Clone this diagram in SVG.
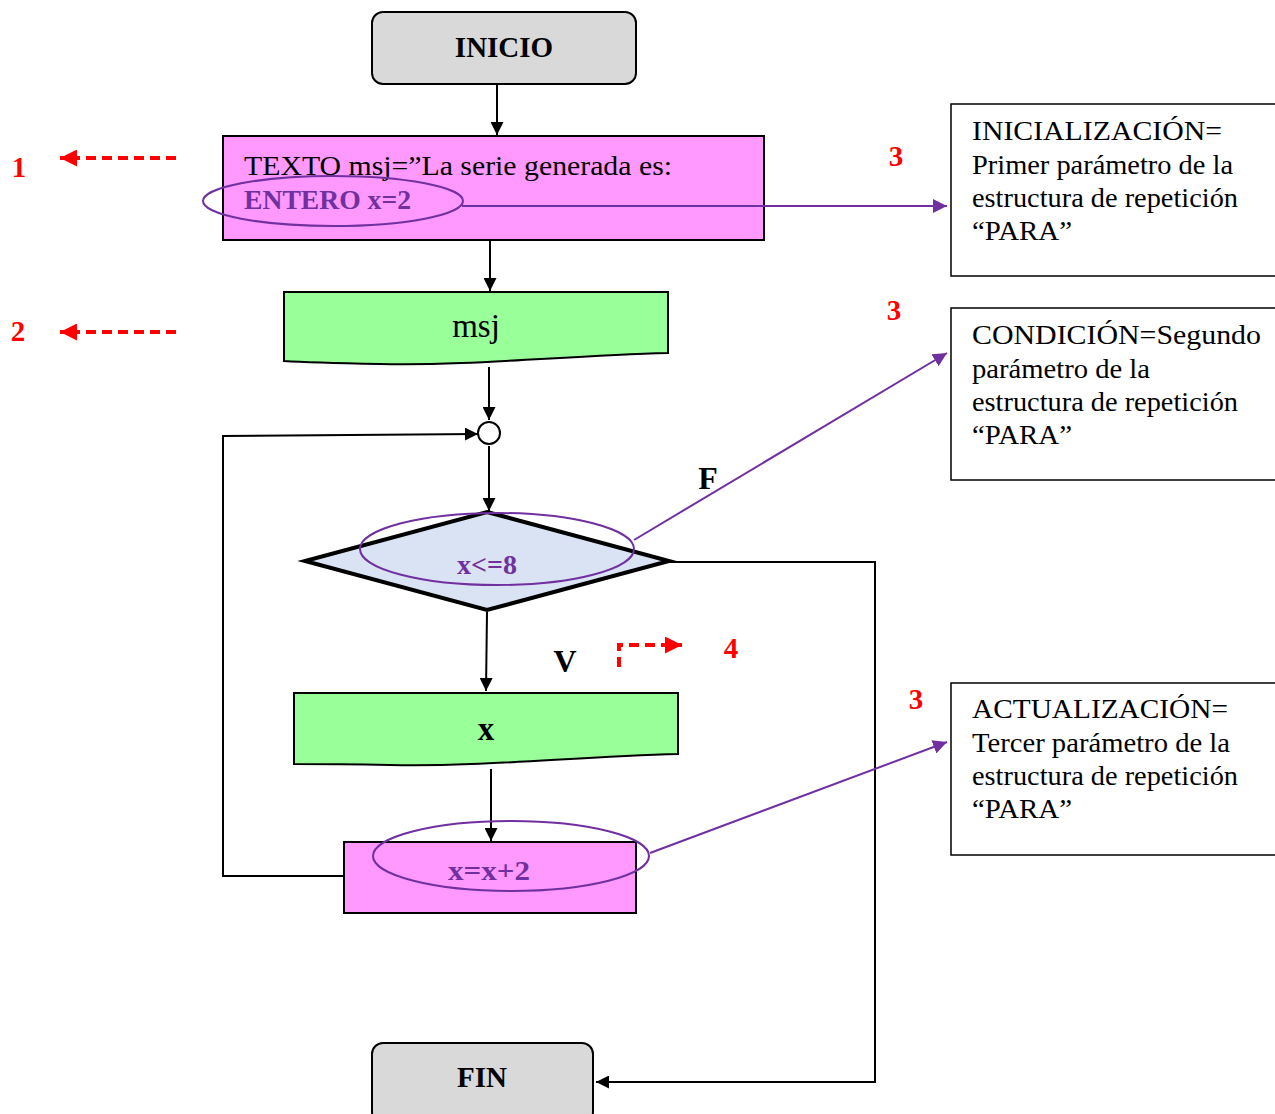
<svg xmlns="http://www.w3.org/2000/svg" width="1275" height="1114" viewBox="0 0 1275 1114">
  <defs>
    <marker id="ah" viewBox="0 0 10 10" refX="10" refY="5" markerWidth="13" markerHeight="13" markerUnits="userSpaceOnUse" orient="auto">
      <path d="M0,0 L10,5 L0,10 z" fill="#000"/>
    </marker>
    <marker id="ahp" viewBox="0 0 10 10" refX="10" refY="5" markerWidth="14" markerHeight="14" markerUnits="userSpaceOnUse" orient="auto">
      <path d="M0,0 L10,5 L0,10 z" fill="#7030a0"/>
    </marker>
    <marker id="ahr" viewBox="0 0 10 10" refX="10" refY="5" markerWidth="17" markerHeight="17" markerUnits="userSpaceOnUse" orient="auto">
      <path d="M0,0 L10,5 L0,10 z" fill="#ff0000"/>
    </marker>
  </defs>
  <style>
    .term { fill: #d9d9d9; stroke: #000; stroke-width: 2; }
    .proc { fill: #ff99ff; stroke: #000; stroke-width: 2; }
    .doc { fill: #99ff99; stroke: #000; stroke-width: 2; }
    .dec { fill: #dae3f3; stroke: #000; stroke-width: 4; }
    .note { fill: #fff; stroke: #000; stroke-width: 1.5; }
    .flow { fill: none; stroke: #000; stroke-width: 2; }
    .call { fill: none; stroke: #7030a0; stroke-width: 2; }
    .mark { fill: none; stroke: #ff0000; stroke-width: 4; stroke-dasharray: 10 6; }
    .t { font-family: "Liberation Serif", serif; fill: #000; }
    .b { font-weight: bold; }
    .p { fill: #7030a0; font-weight: bold; }
    .r { fill: #ff0000; font-weight: bold; font-size: 29px; }
    .n { font-size: 27px; }
  </style>

  <!-- flow connectors -->
  <g id="connectors">
    <line class="flow" x1="497" y1="84" x2="497" y2="135" marker-end="url(#ah)"/>
    <line class="flow" x1="490" y1="240" x2="490" y2="291" marker-end="url(#ah)"/>
    <line class="flow" x1="489" y1="367" x2="489" y2="420" marker-end="url(#ah)"/>
    <line class="flow" x1="489" y1="446" x2="489" y2="511" marker-end="url(#ah)"/>
    <line class="flow" x1="487" y1="612" x2="486" y2="691" marker-end="url(#ah)"/>
    <line class="flow" x1="491" y1="769" x2="491" y2="841" marker-end="url(#ah)"/>
    <polyline class="flow" points="669,562 875,562 875,1082 596,1082" marker-end="url(#ah)"/>
    <polyline class="flow" points="344,876 223,876 223,436 478,434" marker-end="url(#ah)"/>
    <!-- step markers -->
    <line class="mark" x1="176" y1="158" x2="60" y2="158" marker-end="url(#ahr)"/>
    <line class="mark" x1="176" y1="332" x2="60" y2="332" marker-end="url(#ahr)"/>
    <polyline class="mark" points="619,667 619,645 682,645" marker-end="url(#ahr)"/>
  </g>

  <g id="inicio">
    <rect class="term" x="372" y="12" width="264" height="72" rx="11"/>
    <text class="t b" x="504" y="57" font-size="29" text-anchor="middle">INICIO</text>
  </g>

  <g id="declaraciones">
    <rect class="proc" x="223" y="136" width="541" height="104"/>
    <text class="t" x="244" y="175" font-size="27" textLength="428" lengthAdjust="spacingAndGlyphs">TEXTO msj=”La serie generada es:</text>
    <text class="t p" x="244" y="209" font-size="27" textLength="167" lengthAdjust="spacingAndGlyphs">ENTERO x=2</text>
  </g>

  <g id="mostrar-msj">
    <path class="doc" d="M284,292 H668 V353 C560,356 470,366 380,364 C330,363 300,362 284,361 Z"/>
    <text class="t" x="476" y="337" font-size="33" text-anchor="middle">msj</text>
  </g>

  <g id="union">
    <circle cx="489" cy="433" r="11" fill="#fff" stroke="#000" stroke-width="2"/>
  </g>

  <g id="condicion">
    <polygon class="dec" points="487,512 669,561 487,610 305,561"/>
    <text class="t p" x="487" y="574" font-size="27" text-anchor="middle" textLength="60" lengthAdjust="spacingAndGlyphs">x&lt;=8</text>
    <text class="t b" x="708" y="489" font-size="32" text-anchor="middle">F</text>
    <text class="t b" x="565" y="672" font-size="32" text-anchor="middle">V</text>
  </g>

  <g id="mostrar-x">
    <path class="doc" d="M294,693 H678 V754 C570,757 480,767 390,765 C340,764 310,764 294,764 Z"/>
    <text class="t b" x="486" y="740" font-size="33" text-anchor="middle">x</text>
  </g>

  <g id="incremento">
    <rect class="proc" x="344" y="842" width="292" height="71"/>
    <text class="t p" x="489" y="880" font-size="28" text-anchor="middle" textLength="82" lengthAdjust="spacingAndGlyphs">x=x+2</text>
  </g>

  <g id="fin">
    <rect class="term" x="372" y="1043" width="221" height="80" rx="11"/>
    <text class="t b" x="482" y="1087" font-size="29" text-anchor="middle">FIN</text>
  </g>

  <g id="nota-inicializacion">
    <rect class="note" x="951" y="104" width="340" height="172"/>
    <text class="t n" x="972" y="140" textLength="250" lengthAdjust="spacingAndGlyphs">INICIALIZACIÓN=</text>
    <text class="t n" x="972" y="174" textLength="261" lengthAdjust="spacingAndGlyphs">Primer parámetro de la</text>
    <text class="t n" x="972" y="207" textLength="266" lengthAdjust="spacingAndGlyphs">estructura de repetición</text>
    <text class="t n" x="972" y="240" textLength="100" lengthAdjust="spacingAndGlyphs">“PARA”</text>
  </g>

  <g id="nota-condicion">
    <rect class="note" x="951" y="308" width="340" height="172"/>
    <text class="t n" x="972" y="344" textLength="289" lengthAdjust="spacingAndGlyphs">CONDICIÓN=Segundo</text>
    <text class="t n" x="972" y="378" textLength="178" lengthAdjust="spacingAndGlyphs">parámetro de la</text>
    <text class="t n" x="972" y="411" textLength="266" lengthAdjust="spacingAndGlyphs">estructura de repetición</text>
    <text class="t n" x="972" y="444" textLength="100" lengthAdjust="spacingAndGlyphs">“PARA”</text>
  </g>

  <g id="nota-actualizacion">
    <rect class="note" x="951" y="683" width="340" height="172"/>
    <text class="t n" x="972" y="718" textLength="256" lengthAdjust="spacingAndGlyphs">ACTUALIZACIÓN=</text>
    <text class="t n" x="972" y="752" textLength="258" lengthAdjust="spacingAndGlyphs">Tercer parámetro de la</text>
    <text class="t n" x="972" y="785" textLength="266" lengthAdjust="spacingAndGlyphs">estructura de repetición</text>
    <text class="t n" x="972" y="818" textLength="100" lengthAdjust="spacingAndGlyphs">“PARA”</text>
  </g>

  <!-- highlight ellipses and their callout lines to the notes -->
  <g id="callouts">
    <ellipse class="call" cx="333" cy="201" rx="130" ry="25"/>
    <line class="call" x1="462" y1="206" x2="947" y2="206" marker-end="url(#ahp)"/>
    <ellipse class="call" cx="497" cy="549" rx="137" ry="36"/>
    <line class="call" x1="634" y1="540" x2="947" y2="353" marker-end="url(#ahp)"/>
    <ellipse class="call" cx="511" cy="856" rx="138" ry="35"/>
    <line class="call" x1="650" y1="853" x2="947" y2="742" marker-end="url(#ahp)"/>
  </g>

  <g id="numeros">
    <text class="t r" x="19" y="177" text-anchor="middle">1</text>
    <text class="t r" x="18" y="341" text-anchor="middle">2</text>
    <text class="t r" x="896" y="166" text-anchor="middle">3</text>
    <text class="t r" x="894" y="320" text-anchor="middle">3</text>
    <text class="t r" x="916" y="709" text-anchor="middle">3</text>
    <text class="t r" x="731" y="658" text-anchor="middle">4</text>
  </g>
</svg>
